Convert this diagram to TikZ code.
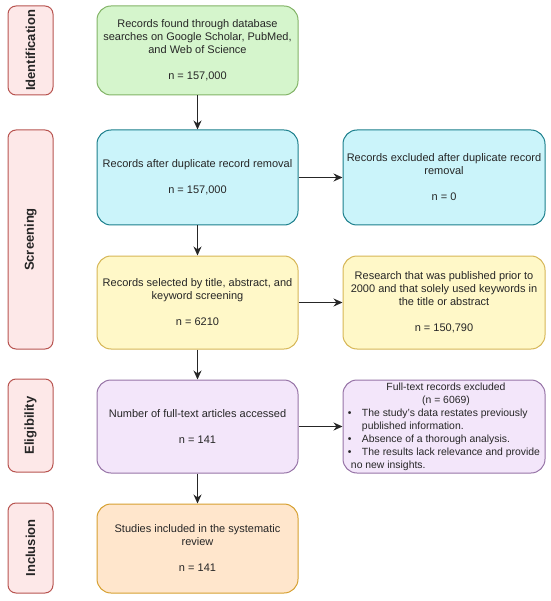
\documentclass[tikz,border=0pt]{standalone}
\usepackage{fontspec}
\setmainfont{Liberation Sans}
\usetikzlibrary{arrows.meta}
\definecolor{stagefill}{HTML}{FDE8E8}
\definecolor{stagedraw}{HTML}{B85450}
\definecolor{greenfill}{HTML}{D5F5CC}
\definecolor{greendraw}{HTML}{82B366}
\definecolor{cyanfill}{HTML}{CBF4FA}
\definecolor{cyandraw}{HTML}{1B7F8C}
\definecolor{yellowfill}{HTML}{FFF8C8}
\definecolor{yellowdraw}{HTML}{D6B656}
\definecolor{purplefill}{HTML}{F3E6FA}
\definecolor{purpledraw}{HTML}{9673A6}
\definecolor{orangefill}{HTML}{FFE6CC}
\definecolor{orangedraw}{HTML}{D6A030}
\tikzset{
  txt/.style={font=\fontsize{11}{13}\selectfont, text=black!85, align=center, inner sep=0pt},
  box/.style={txt, rounded corners=14pt, line width=1pt, minimum width=201pt},
  stage/.style={rounded corners=8pt, line width=1pt, draw=stagedraw, fill=stagefill,
     minimum width=45pt, inner sep=0pt, font=\fontsize{13}{15}\selectfont\bfseries, text=black!85},
  arr/.style={-{Stealth[length=9pt,width=8pt]}, line width=1.3pt, draw=black!85},
}
\begin{document}
\begin{tikzpicture}[x=1pt,y=-1pt]
\useasboundingbox (0,0) rectangle (550,601);
% stage labels
\node[stage, minimum height=89pt] (sid) at (30.5,50.5) {\rotatebox{90}{Identification}};
\node[stage, minimum height=219pt] (ssc) at (30.5,239.5) {\rotatebox{90}{Screening}};
\node[stage, minimum height=93pt] (sel) at (30.5,425.5) {\rotatebox{90}{Eligibility}};
\node[stage, minimum height=90pt] (sin) at (30.5,548) {\rotatebox{90}{Inclusion}};
% main column
\node[box, draw=greendraw, fill=greenfill, minimum height=89pt] (ident) at (197.5,50.5)
  {Records found through database\\searches on Google Scholar, PubMed,\\and Web of Science\\[13pt]n = 157,000};
\node[box, draw=cyandraw, fill=cyanfill, minimum height=95pt] (dup) at (197.5,177.5)
  {Records after duplicate record removal\\[13pt]n = 157,000};
\node[box, draw=yellowdraw, fill=yellowfill, minimum height=93pt] (sel1) at (197.5,302.5)
  {Records selected by title, abstract, and\\keyword screening\\[13pt]n = 6210};
\node[box, draw=purpledraw, fill=purplefill, minimum height=93pt] (full) at (197.5,426.5)
  {Number of full-text articles accessed\\[13pt]n = 141};
\node[box, draw=orangedraw, fill=orangefill, minimum height=89pt] (incl) at (197.5,548.5)
  {Studies included in the systematic\\review\\[13pt]n = 141};
% right column
\node[box, draw=cyandraw, fill=cyanfill, minimum height=95pt, minimum width=202pt] (exdup) at (444,177.5)
  {Records excluded after duplicate record\\removal\\[13pt]n = 0};
\node[box, draw=yellowdraw, fill=yellowfill, minimum height=93pt, minimum width=202pt] (exsel) at (444,302.5)
  {Research that was published prior to\\2000 and that solely used keywords in\\the title or abstract\\[13pt]n = 150,790};
\node[box, draw=purpledraw, fill=purplefill, minimum height=93pt, minimum width=202pt, align=left,
      font=\fontsize{10.4}{13}\selectfont] (exfull) at (444,426.5)
  {\begin{tabular}{@{}p{14pt}@{}l@{}}
   \multicolumn{2}{@{}c@{}}{\hspace{4pt}Full-text records excluded}\\
   \multicolumn{2}{@{}c@{}}{\hspace{4pt}(n = 6069)}\\
   \textbullet & The study's data restates previously\\
   & published information.\\
   \textbullet & Absence of a thorough analysis.\\
   \textbullet & The results lack relevance and provide\\
   \multicolumn{2}{@{\hspace{3pt}}l@{}}{no new insights.}
   \end{tabular}};
% connectors
\draw[arr] (ident) -- (dup);
\draw[arr] (dup) -- (sel1);
\draw[arr] (sel1) -- (full);
\draw[arr] (full) -- (incl);
\draw[arr] (dup) -- (exdup);
\draw[arr] (sel1) -- (exsel);
\draw[arr] (full) -- (exfull);
\end{tikzpicture}
\end{document}
